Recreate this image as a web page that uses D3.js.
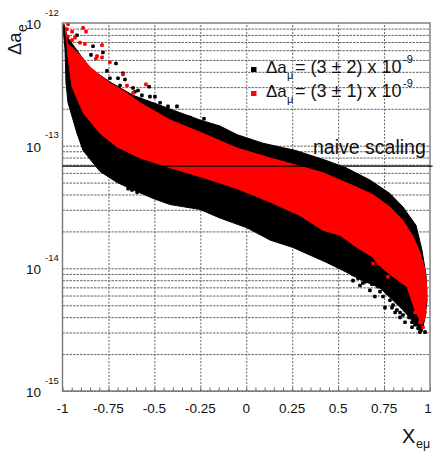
<!DOCTYPE html>
<html>
<head>
<meta charset="utf-8">
<script src="https://cdn.jsdelivr.net/npm/d3@7"></script>
<style>
  html, body { margin: 0; padding: 0; background: #fff; }
  svg { display: block; }
  text { font-family: "Liberation Sans", sans-serif; fill: #111; }
</style>
</head>
<body>
<div id="chart"></div>
<script>
// band edges, y values are log10(delta a_e)
var blackUpX = [-0.992,-0.976,-0.932,-0.85,-0.742,-0.616,-0.524,-0.399,-0.252,-0.143,-0.05,0.091,0.271,0.434,0.543,0.673,0.782,0.853,0.924,0.956,0.978,0.984,0.973,0.956];
var blackUpY = [-12.01,-12.11,-12.20,-12.37,-12.48,-12.59,-12.64,-12.71,-12.79,-12.84,-12.91,-12.98,-13.04,-13.12,-13.18,-13.28,-13.39,-13.50,-13.65,-13.85,-14.05,-14.26,-14.40,-14.52];
var blackLowX = [-0.997,-0.986,-0.981,-0.97,-0.921,-0.888,-0.796,-0.703,-0.616,-0.507,-0.415,-0.252,-0.143,0.004,0.13,0.254,0.434,0.543,0.619,0.728,0.853,0.945];
var blackLowY = [-12.04,-12.22,-12.49,-12.65,-12.90,-13.04,-13.21,-13.30,-13.36,-13.43,-13.48,-13.52,-13.59,-13.67,-13.77,-13.83,-13.95,-14.03,-14.09,-14.16,-14.34,-14.50];
var redUpX = [-0.986,-0.976,-0.905,-0.85,-0.742,-0.66,-0.578,-0.415,-0.235,-0.05,0.13,0.276,0.417,0.51,0.603,0.69,0.782,0.853,0.908,0.945,0.973,0.984,0.973,0.956];
var redUpY = [-12.03,-12.16,-12.26,-12.36,-12.49,-12.56,-12.65,-12.79,-12.90,-13.02,-13.10,-13.16,-13.22,-13.28,-13.34,-13.40,-13.50,-13.61,-13.74,-13.87,-14.01,-14.18,-14.40,-14.46];
var redLowX = [-0.981,-0.97,-0.948,-0.888,-0.796,-0.703,-0.578,-0.415,-0.235,-0.05,0.13,0.293,0.417,0.51,0.603,0.69,0.712,0.782,0.875,0.918,0.956];
var redLowY = [-12.06,-12.28,-12.52,-12.73,-12.90,-13.01,-13.10,-13.18,-13.26,-13.35,-13.46,-13.57,-13.69,-13.73,-13.83,-13.91,-13.96,-14.05,-14.15,-14.34,-14.46];

// stray scatter points outside the solid bands
var blackDotsX = [-0.921,-0.834,-0.78,-0.845,-0.709,-0.758,-0.698,-0.671,-0.616,-0.529,-0.589,-0.497,-0.377,-0.306,-0.23,-0.622,-0.643,-0.594,0.603,0.581,0.635,0.619,0.673,0.728,0.70,0.744,0.755,0.793,0.799,0.81,0.837,0.853,0.864,0.88,0.902,0.902,0.929,0.945,
  0.581,0.608,0.646,0.684,0.717,0.766,0.782,0.826,0.82,0.864,0.886,0.918,0.935,0.973,0.837,-0.742,-0.687,-0.66,-0.606,-0.568,-0.524,-0.469,-0.426];
var blackDotsY = [-12.10,-12.19,-12.24,-12.26,-12.33,-12.39,-12.45,-12.41,-12.53,-12.52,-12.55,-12.60,-12.68,-12.77,-12.78,-13.36,-13.35,-13.38,-14.04,-14.10,-14.12,-14.14,-14.18,-14.19,-14.23,-14.23,-14.32,-14.32,-14.30,-14.36,-14.40,-14.38,-14.44,-14.36,-14.48,-14.44,-14.42,-14.52,
  -14.05,-14.08,-14.11,-14.13,-14.15,-14.20,-14.26,-14.28,-14.34,-14.34,-14.40,-14.46,-14.49,-14.52,-14.36,-12.45,-12.51,-12.46,-12.56,-12.59,-12.60,-12.65,-12.68];
var redDotsX = [-0.97,-0.888,-0.872,-0.976,-0.948,-0.878,-0.785,-0.812,-0.785,-0.818,-0.742,-0.671,-0.546,-0.97,-0.948,-0.932,-0.905,-0.649,-0.616,0.771,0.962,0.935,0.956,0.973,0.945,0.962,0.918,0.722,0.69,0.755];
var redDotsY = [-12.01,-12.04,-12.07,-12.05,-12.07,-12.17,-12.18,-12.27,-12.28,-12.29,-12.32,-12.42,-12.50,-12.11,-12.14,-12.12,-12.16,-12.51,-12.57,-14.07,-14.48,-14.36,-14.26,-14.36,-14.44,-14.40,-14.36,-13.96,-13.96,-13.97];

var naiveX = [-1, 1.014];
var naiveY = [-13.166, -13.166];

var xMajor = [-1,-0.75,-0.5,-0.25,0,0.25,0.5,0.75,1];
var xLabels = ["-1","-0.75","-0.5","-0.25","0","0.25","0.5","0.75","1"];
var decades = [-12,-13,-14,-15];
var legendLabels = ["= (3 \u00b1 2) x 10", "= (3 \u00b1 1) x 10"];

var width = 433, height = 451;
var left = 62.5, right = 430, top_ = 23, bottom = 391;

var x = d3.scaleLinear().domain([-1,1]).range([left,right]);
var y = d3.scaleLog().domain([1e-15,1e-12]).range([bottom,top_]);

var svg = d3.select("#chart").append("svg")
  .attr("width",width)
  .attr("height",height);

function ey(e) { return y(Math.pow(10,e)); }

// grid
var yMinor = [];
[-15,-14,-13].forEach(function(d) {
  d3.range(1,10).forEach(function(m) { yMinor.push(m * Math.pow(10,d)); });
});

var gridY = d3.axisLeft(y).tickValues(yMinor).tickSize(-(right-left)).tickFormat("");
var gy = svg.append("g").attr("transform","translate(" + left + ",0)").call(gridY);
gy.select(".domain").remove();
gy.selectAll("line").attr("stroke","#666").attr("stroke-dasharray","2.5,1");

var gridX = d3.axisBottom(x).tickValues(xMajor.slice(1,-1)).tickSize(-(bottom-top_)).tickFormat("");
var gx = svg.append("g").attr("transform","translate(0," + bottom + ")").call(gridX);
gx.select(".domain").remove();
gx.selectAll("line").attr("stroke","#666").attr("stroke-dasharray","2,1.5");

// small ticks on the bottom
var xMinorTicks = d3.range(-20,21).map(function(d) { return d/20; });
var tickAxis = d3.axisBottom(x).tickValues(xMinorTicks).tickSize(-3.5).tickFormat("");
var gt = svg.append("g").attr("transform","translate(0," + bottom + ")").call(tickAxis);
gt.select(".domain").remove();
gt.selectAll("line").attr("stroke","#666");

// bands
function band(upX,upY,lowX,lowY,color) {
  var pts = upX.map(function(d,i) { return [x(d),ey(upY[i])]; });
  var low = lowX.map(function(d,i) { return [x(d),ey(lowY[i])]; }).reverse();
  svg.append("path")
    .attr("d",d3.line()(pts.concat(low)) + "Z")
    .attr("fill",color)
    .attr("stroke",color)
    .attr("stroke-width",1);
}

function dots(xs,ys,color) {
  svg.append("g").selectAll("rect")
    .data(xs)
    .enter()
    .append("rect")
    .attr("x",function(d) { return x(d) - 1.8; })
    .attr("y",function(d,i) { return ey(ys[i]) - 1.8; })
    .attr("width",3.6)
    .attr("height",3.6)
    .attr("rx",1)
    .attr("fill",color);
}

band(blackUpX,blackUpY,blackLowX,blackLowY,"#000");
dots(blackDotsX,blackDotsY,"#000");
band(redUpX,redUpY,redLowX,redLowY,"#f00");
dots(redDotsX,redDotsY,"#f00");

// frame
svg.append("rect")
  .attr("x",left)
  .attr("y",top_)
  .attr("width",right-left)
  .attr("height",bottom-top_)
  .attr("fill","none")
  .attr("stroke","#777")
  .attr("stroke-width",1.4);

// naive scaling line
svg.append("line")
  .attr("x1",x(naiveX[0]))
  .attr("x2",x(naiveX[1]))
  .attr("y1",ey(naiveY[0]))
  .attr("y2",ey(naiveY[1]))
  .attr("stroke","#000")
  .attr("stroke-width",1.2);

function label(px,py,str,size,anchor,rot) {
  var t = svg.append("text")
    .attr("x",px)
    .attr("y",py)
    .attr("font-size",size)
    .attr("text-anchor",anchor || "start")
    .text(str);
  if (rot) t.attr("transform","rotate(" + rot + " " + px + " " + py + ")");
  return t;
}

// tick labels, the last one is pulled in a bit so it stays on the page
xMajor.forEach(function(d,i) {
  label(i == 8 ? x(d) - 2 : x(d),413,xLabels[i],13.5,"middle");
});
decades.forEach(function(d) {
  var yy = ey(d);
  label(26,yy + 6,"10",13.5);
  label(45,yy - 7.5,String(d),9.5);
});

// axis titles
label(21,55,"\u0394a",18.5,"start",-90);
label(27,32,"e",14,"start",-90);
label(402,443,"X",20);
label(416,448,"e\u03bc",12.5);

// legend
[0,1].forEach(function(i) {
  var yy = 73 + i*24;
  svg.append("rect")
    .attr("x",251)
    .attr("y",yy - 6)
    .attr("width",5.5)
    .attr("height",5)
    .attr("fill",i == 0 ? "#000" : "#f00");
  label(266,yy,"\u0394a",17);
  label(287,yy + 6,"\u03bc",11);
  label(295,yy,legendLabels[i],18);
  label(403,yy - 10,"-9",11);
});

label(313,154,"naive scaling",19.5);
</script>
</body>
</html>
